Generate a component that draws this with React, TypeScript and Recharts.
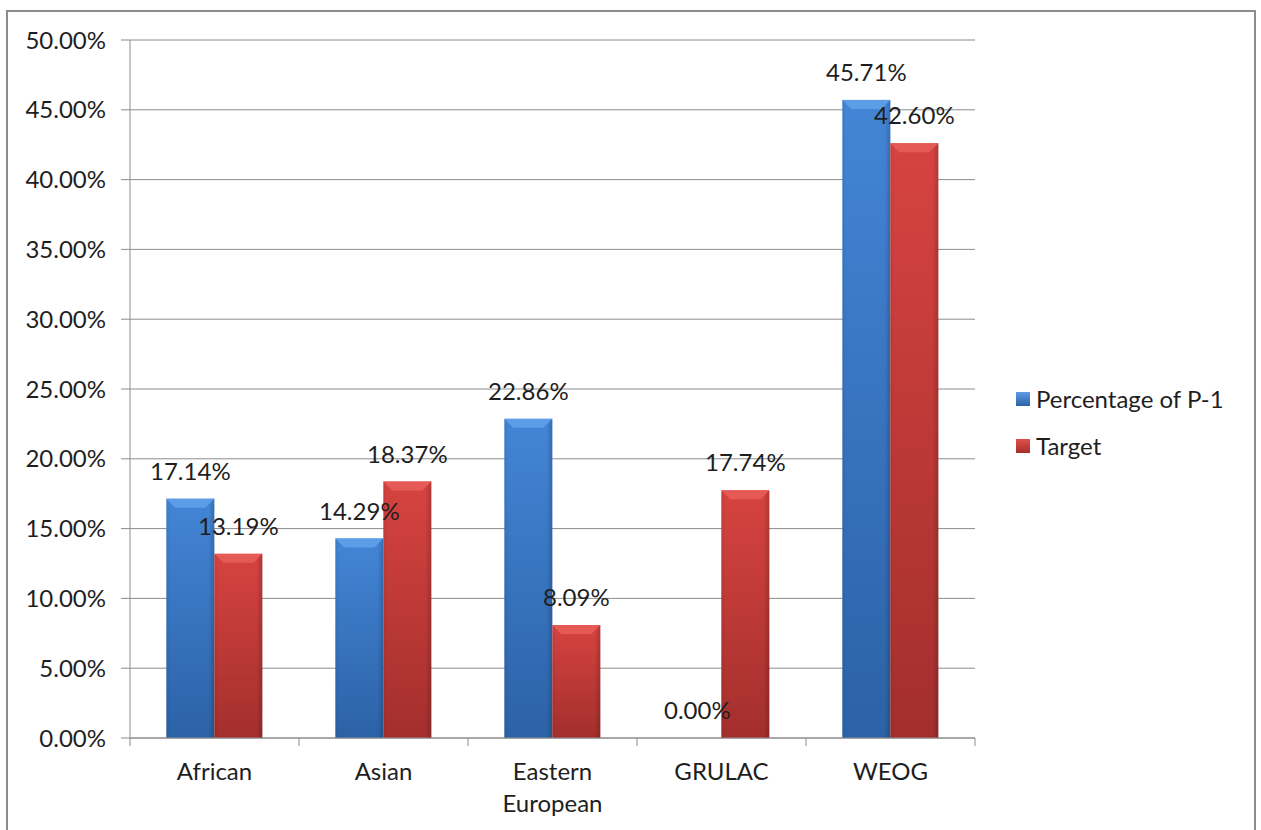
import React from "react";
import {
  BarChart,
  Bar,
  XAxis,
  YAxis,
  CartesianGrid,
  Legend,
  LabelList,
} from "recharts";

const categories = ["African", "Asian", "Eastern European", "GRULAC", "WEOG"];
const percentageOfP1 = [17.14, 14.29, 22.86, 0.0, 45.71];
const target = [13.19, 18.37, 8.09, 17.74, 42.6];
const yTicks = [0, 5, 10, 15, 20, 25, 30, 35, 40, 45, 50];

const chartData = categories.map((name, i) => ({
  name,
  p1: percentageOfP1[i],
  target: target[i],
}));

const FONT = "Lato, 'Open Sans', sans-serif";
const FS = 24;
const AXIS_GRAY = "#8c8c8c";
const TEXT = "#1e1e1e";

// bar with a bevelled top, like the old office 3d style
function BevelBar(props: any) {
  const { x, y, width, height, gradId, topColor } = props;
  if (!height || height <= 0) return null;
  const b = Math.min(9, height / 2);
  return (
    <g>
      <rect x={x} y={y} width={width} height={height} fill={`url(#${gradId})`} />
      <rect x={x} y={y} width={width} height={height} fill="url(#edgeShade)" />
      <polygon
        points={`${x},${y} ${x + width},${y} ${x + width - b},${y + b} ${x + b},${y + b}`}
        fill={topColor}
      />
    </g>
  );
}

function CategoryTick(props: any) {
  const { x, y, payload, index, visibleTicksCount } = props;
  const half = payload.offset || 84.5;
  const words = String(payload.value).split(" ");
  const isLast = index === visibleTicksCount - 1;
  return (
    <g>
      <line x1={x - half} x2={x - half} y1={y} y2={y + 8} stroke={AXIS_GRAY} />
      {isLast && (
        <line x1={x + half} x2={x + half} y1={y} y2={y + 8} stroke={AXIS_GRAY} />
      )}
      {words.map((w, i) => (
        <text
          key={w}
          x={x}
          y={y + 42 + i * 32}
          textAnchor="middle"
          fill={TEXT}
          fontSize={FS}
          fontFamily={FONT}
        >
          {w}
        </text>
      ))}
    </g>
  );
}

function LegendBox() {
  const items = [
    { label: "Percentage of P-1", from: "#5d9be3", to: "#2c62a8" },
    { label: "Target", from: "#e0504c", to: "#a52e2c" },
  ];
  return (
    <div style={{ fontFamily: FONT, fontSize: FS, color: TEXT }}>
      {items.map((it) => (
        <div
          key={it.label}
          style={{ display: "flex", alignItems: "center", height: 47 }}
        >
          <span
            style={{
              display: "inline-block",
              width: 14,
              height: 14,
              marginRight: 6,
              background: `linear-gradient(180deg, ${it.from}, ${it.to})`,
            }}
          />
          <span>{it.label}</span>
        </div>
      ))}
    </div>
  );
}

const fmt = (v: any) => `${Number(v).toFixed(2)}%`;

export default function App() {
  return (
    <div style={{ position: "absolute", left: 0, top: 0, width: 1261, height: 830, overflow: "hidden", background: "#fff" }}>
      <div
        style={{
          position: "absolute",
          left: 6,
          top: 10,
          width: 1246,
          height: 900,
          border: `2.5px solid ${AXIS_GRAY}`,
        }}
      />
      <div style={{ position: "absolute", left: 0, top: 0 }}>
        <BarChart
          width={1261}
          height={830}
          data={chartData}
          margin={{ top: 40, right: 286, bottom: 0, left: 0 }}
          barCategoryGap="21.5%"
          barGap={0}
        >
          <defs>
            <linearGradient id="blueGrad" x1="0" y1="0" x2="0" y2="1">
              <stop offset="0%" stopColor="#4385d6" />
              <stop offset="100%" stopColor="#2c62a6" />
            </linearGradient>
            <linearGradient id="redGrad" x1="0" y1="0" x2="0" y2="1">
              <stop offset="0%" stopColor="#d64340" />
              <stop offset="100%" stopColor="#a32f2d" />
            </linearGradient>
            <linearGradient id="edgeShade" x1="0" y1="0" x2="1" y2="0">
              <stop offset="0%" stopColor="#000" stopOpacity={0.08} />
              <stop offset="8%" stopColor="#000" stopOpacity={0} />
              <stop offset="88%" stopColor="#000" stopOpacity={0} />
              <stop offset="100%" stopColor="#000" stopOpacity={0.18} />
            </linearGradient>
          </defs>
          <CartesianGrid vertical={false} stroke={AXIS_GRAY} />
          <XAxis
            dataKey="name"
            height={92}
            stroke={AXIS_GRAY}
            tickLine={false}
            tickSize={0}
            tickMargin={0}
            interval={0}
            tick={<CategoryTick />}
          />
          <YAxis
            width={130}
            domain={[0, 50]}
            ticks={yTicks}
            stroke={AXIS_GRAY}
            tickSize={9}
            tickMargin={15}
            tickFormatter={fmt}
            tick={{ fill: TEXT, fontSize: FS, fontFamily: FONT }}
          />
          <Legend
            layout="vertical"
            align="center"
            verticalAlign="middle"
            wrapperStyle={{ left: 1016, top: 375, width: 240 }}
            content={<LegendBox />}
          />
          <Bar
            dataKey="p1"
            name="Percentage of P-1"
            isAnimationActive={false}
            shape={<BevelBar gradId="blueGrad" topColor="#5d9de8" />}
          >
            <LabelList
              dataKey="p1"
              position="top"
              offset={19}
              formatter={fmt}
              fill={TEXT}
              fontSize={FS}
              fontFamily={FONT}
            />
          </Bar>
          <Bar
            dataKey="target"
            name="Target"
            isAnimationActive={false}
            shape={<BevelBar gradId="redGrad" topColor="#e65a56" />}
          >
            <LabelList
              dataKey="target"
              position="top"
              offset={19}
              formatter={fmt}
              fill={TEXT}
              fontSize={FS}
              fontFamily={FONT}
            />
          </Bar>
        </BarChart>
      </div>
    </div>
  );
}
